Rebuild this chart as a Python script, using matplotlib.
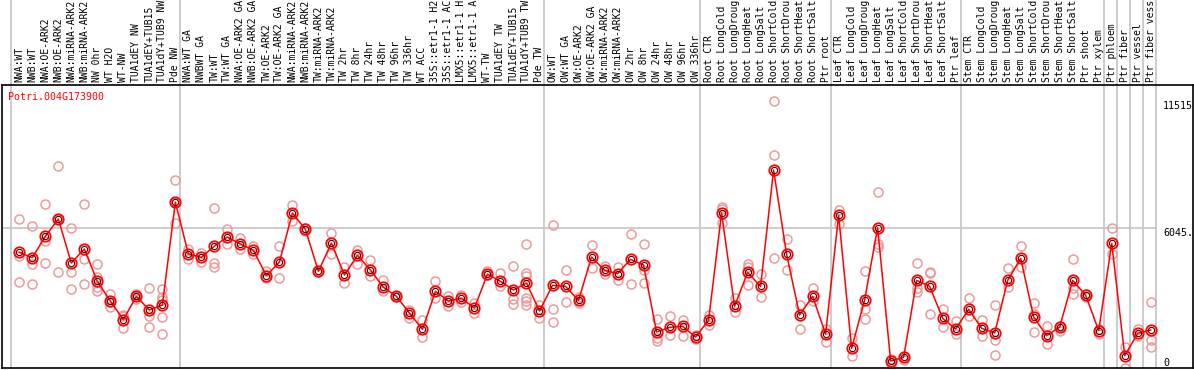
import matplotlib
matplotlib.use("Agg")
import matplotlib.pyplot as plt
import matplotlib.transforms as mtransforms

# Potri.004G173900 expression profile, 88 samples

labels = [
    "NWA:WT", "NWB:WT", "NWA:OE-ARK2", "NWB:OE-ARK2", "NWA:miRNA-ARK2", "NWB:miRNA-ARK2",
    "NW 0hr", "WT H2O", "WT-NW", "TUA1dEY NW", "TUA1dEY+TUB15", "TUA1dY+TUB9 NW", "Pde NW",
    "NWA:WT GA", "NWBWT GA", "TW:WT", "TW:WT GA", "NWA:OE-ARK2 GA", "NWB:OE-ARK2 GA",
    "TW:OE-ARK2", "TW:OE-ARK2 GA", "NWA:miRNA-ARK2", "NWB:miRNA-ARK2", "TW:miRNA-ARK2",
    "TW:miRNA-ARK2", "TW 2hr", "TW 8hr", "TW 24hr", "TW 48hr", "TW 96hr", "TW 336hr",
    "WT ACC", "35S::etr1-1 H2", "35S::etr1-1 AC", "LMX5::etr1-1 H", "LMX5::etr1-1 A",
    "WT-TW", "TUA1dEY TW", "TUA1dEY+TUB15", "TUA1dY+TUB9 TW", "Pde TW",
    "OW:WT", "OW:WT GA", "OW:OE-ARK2", "OW:OE-ARK2 GA", "OW:miRNA-ARK2", "OW:miRNA-ARK2",
    "OW 2hr", "OW 8hr", "OW 24hr", "OW 48hr", "OW 96hr", "OW 336hr",
    "Root CTR", "Root LongCold", "Root LongDroug", "Root LongHeat", "Root LongSalt",
    "Root ShortCold", "Root ShortDrou", "Root ShortHeat", "Root ShortSalt", "Ptr root",
    "Leaf CTR", "Leaf LongCold", "Leaf LongDroug", "Leaf LongHeat", "Leaf LongSalt",
    "Leaf ShortCold", "Leaf ShortDrou", "Leaf ShortHeat", "Leaf ShortSalt", "Ptr leaf",
    "Stem CTR", "Stem LongCold", "Stem LongDroug", "Stem LongHeat", "Stem LongSalt",
    "Stem ShortCold", "Stem ShortDrou", "Stem ShortHeat", "Stem ShortSalt",
    "Ptr shoot", "Ptr xylem", "Ptr phloem", "Ptr fiber", "Ptr vessel", "Ptr fiber vess",
]

means = [
    4983, 4753, 5672, 6419, 4523, 5126, 3733, 2886, 2082, 3087, 2498, 2714, 7151,
    4911, 4767, 5256, 5643, 5342, 5069, 3978, 4566, 6677, 5974, 4164, 5385, 4006,
    4853, 4222, 3475, 3087, 2369, 1666, 3303, 2886, 3001, 2585, 4049, 3733, 3360,
    3662, 2455, 3561, 3518, 2915, 4782, 4207, 4064, 4681, 4437, 1551, 1752, 1795,
    1335, 2053, 6677, 2656, 4121, 3518, 8530, 4897, 2283, 3087, 1465, 6577, 847,
    2929, 6045, 301, 459, 3776, 3518, 2139, 1680, 2527, 1709, 1508, 3776, 4724,
    2197, 1393, 1766, 3776, 3130, 1608, 5370, 531, 1493, 1637,
]

replicates = [
    [6419, 4839, 3690], [6117, 4466, 3618], [7051, 5485, 4523], [8688, 4136, 6430],
    [6031, 4121, 3389], [7051, 4696, 3618], [4480, 3934, 3504, 3317], [3188, 2613, 2860],
    [2283, 1723, 2240], [3188, 3101, 2972], [3432, 2254, 1752],
    [3389, 3073, 2929, 2182, 1464], [8099, 6232, 7150], [5141, 4696], [4968, 4581],
    [6893, 4538, 4351], [5988, 5342], [5586, 5112], [5270, 4911], [4193, 3863],
    [5256, 3877], [7022, 6333], [6017, 5902], [4200, 4130], [5801, 4897],
    [4351, 3647], [5083, 4480], [4638, 3963], [3776, 3303], [3116, 3044],
    [2498, 2168], [2068, 1321], [3733, 3030], [3087, 2685], [3145, 2857],
    [2815, 2355], [4179, 4000], [4092, 3547], [4394, 2958, 2743],
    [5342, 4107, 3963, 3001, 2886, 2714], [2714, 2168], [6160, 2527, 1967],
    [4207, 2843], [3044, 2786], [5299, 4308], [4408, 4035], [4351, 3776],
    [5772, 3618], [5342, 4222, 3647], [2111, 1278, 1177], [2226, 1407], [2068, 1364],
    [1421, 1235], [2283, 1838], [6950, 6864, 6232], [3001, 2398], [4480, 4365, 3575],
    [4049, 3044], [11515, 9161, 4739], [5557, 4207], [2699, 1680], [3446, 2900],
    [1694, 1105], [6806, 6189], [1278, 517], [4179, 2527, 2111], [7582, 5327, 5227],
    [373, 172], [531, 344], [4523, 3432, 3288], [4135, 2326, 4100], [2541, 1780],
    [2025, 1450], [3001, 2240], [2068, 1393], [2714, 1220, 545], [4294, 3504],
    [5241, 4365], [2786, 2326, 1536], [1795, 1019], [1809, 1608], [4696, 3432, 3202],
    [3188, 3044], [1694, 1450], [6017, 4897], [919, 20], [1665, 1378], [2829, 1206, 890],
]

# columns where a new tissue / experiment group starts
group_starts = [0, 13, 41, 53, 63, 73, 84, 85, 86, 87, 88]
ymax_label = 11515
mid_label = 6045

W, H = 1194, 370
fig = plt.figure(figsize=(W / 100, H / 100), dpi=100)
ax = fig.add_axes([2 / W, 2 / H, 1191 / W, 283 / H])

x = list(range(len(labels)))
ax.set_xlim(-1.33, 90.25)
ax.set_ylim(0, 12192)
ax.set_xticks([])
ax.set_yticks([])
for s in ax.spines.values():
    s.set_color("black")
    s.set_linewidth(1.2)

grid_col = "#c4c4c4"
for g in group_starts:
    ax.axvline(g - 0.62, ymin=0, ymax=1.31, color=grid_col, lw=1.2, clip_on=False, zorder=0)
ax.plot([-1.33, 87.38], [mid_label, mid_label], color=grid_col, lw=1.2, zorder=0)

for i, reps in enumerate(replicates):
    ax.plot([i] * len(reps), reps, "o", ms=6.5, mfc="none", mec="#ec9a9a", mew=1.1, zorder=2)

ax.plot(x, means, "-", color="red", lw=1.1, zorder=3)
ax.plot(x, means, "o", ms=7.5, mfc="none", mec="red", mew=1.3, zorder=4)
ax.plot(x, means, "o", ms=4.5, mfc="none", mec="#400000", mew=0.8, zorder=5)

mono = "DejaVu Sans Mono"
trans = mtransforms.blended_transform_factory(ax.transData, ax.transAxes)
for i, lab in enumerate(labels):
    ax.text(i, 1.0 + 3 / 283, lab, transform=trans, rotation=90, ha="center", va="bottom",
            fontsize=7, family=mono, clip_on=False)

ax.text(0.005, 0.975, "Potri.004G173900", transform=ax.transAxes, color="red",
        fontsize=7.2, family=mono, ha="left", va="top")

ytrans = mtransforms.blended_transform_factory(ax.transAxes, ax.transData)
for v, txt in [(ymax_label, "11515"), (mid_label, "6045."), (0, "0")]:
    ax.text(0.975, v, txt, transform=ytrans, fontsize=7.2, family=mono,
            ha="left", va="top" if v > 0 else "bottom")

fig.savefig("out.png", dpi=100)
